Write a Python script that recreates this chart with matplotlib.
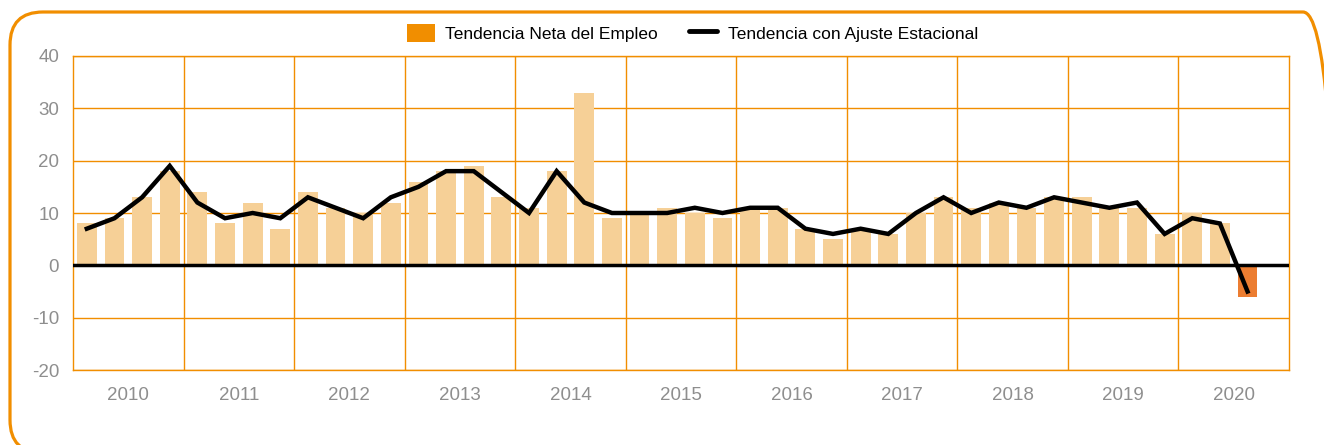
import numpy as np
import matplotlib
matplotlib.use("Agg")
import matplotlib.pyplot as plt
from matplotlib.patches import FancyBboxPatch
from matplotlib.lines import Line2D
from matplotlib.patches import Patch

plt.rcParams['font.family'] = ['Liberation Sans', 'DejaVu Sans']

years = ['2010', '2011', '2012', '2013', '2014', '2015', '2016', '2017', '2018', '2019', '2020']

# quarterly values, 2010 Q1 .. 2020 Q3
neta = [8, 9, 13, 18, 14, 8, 12, 7,
        14, 11, 10, 12, 16, 18, 19, 13,
        11, 18, 33, 9, 10, 11, 10, 9,
        11, 11, 7, 5, 7, 6, 10, 13,
        11, 12, 11, 13, 13, 11, 11, 6,
        10, 8, -6]
ajuste = [7, 9, 13, 19, 12, 9, 10, 9,
          13, 11, 9, 13, 15, 18, 18, 14,
          10, 18, 12, 10, 10, 10, 11, 10,
          11, 11, 7, 6, 7, 6, 10, 13,
          10, 12, 11, 13, 12, 11, 12, 6,
          9, 8, -5]

orange = '#F18E00'
bar_col = '#F6D097'
neg_col = '#EC7D31'
grey = '#8E8E8E'

fig = plt.figure(figsize=(13.24, 4.45), dpi=100)

# rounded frame, runs off the right and bottom edges like the original
frame = FancyBboxPatch((0.10, -0.08), 13.26, 4.41,
                       boxstyle="round,pad=0,rounding_size=0.33",
                       transform=fig.dpi_scale_trans, fill=False,
                       edgecolor=orange, linewidth=2.3)
fig.patches.append(frame)

ax = fig.add_axes([73 / 1324, 1 - 370 / 445, (1289 - 73) / 1324, (370 - 56) / 445])

x = np.arange(len(neta))
colors = [neg_col if v < 0 else bar_col for v in neta]
ax.bar(x, neta, width=0.72, color=colors, zorder=2)
ax.axhline(0, color='black', linewidth=2.5, zorder=3)
ax.plot(x, ajuste, color='black', linewidth=3.2, zorder=4, solid_joinstyle='miter')

ax.set_xlim(-0.5, 43.5)
ax.set_ylim(-20, 40)
ax.set_yticks(range(-20, 41, 10))
ax.set_yticklabels([str(v) for v in range(-20, 41, 10)])

ax.set_xticks(np.arange(3.5, 40, 4), minor=True)
ax.set_xticks(np.arange(1.5, 44, 4))
ax.set_xticklabels(years)
ax.grid(True, which='minor', axis='x', color=orange, linewidth=1, zorder=0)
ax.grid(True, which='major', axis='y', color=orange, linewidth=1, zorder=0)
ax.tick_params(which='both', length=0)
ax.tick_params(axis='y', labelsize=13.5, labelcolor=grey, pad=10)
ax.tick_params(axis='x', labelsize=13.5, labelcolor=grey, pad=12)
for s in ax.spines.values():
    s.set_color(orange)
    s.set_linewidth(1)

handles = [Patch(facecolor=orange, edgecolor='none'),
           Line2D([0], [0], color='black', linewidth=3.5, solid_capstyle='round')]
fig.legend(handles, ['Tendencia Neta del Empleo', 'Tendencia con Ajuste Estacional'],
           loc='center', bbox_to_anchor=(0.523, 1 - 33 / 445), ncol=2, frameon=False,
           fontsize=12.5, handlelength=1.6, handleheight=1.3, columnspacing=1.8,
           handletextpad=0.6)

fig.savefig('out.png', dpi=100)
